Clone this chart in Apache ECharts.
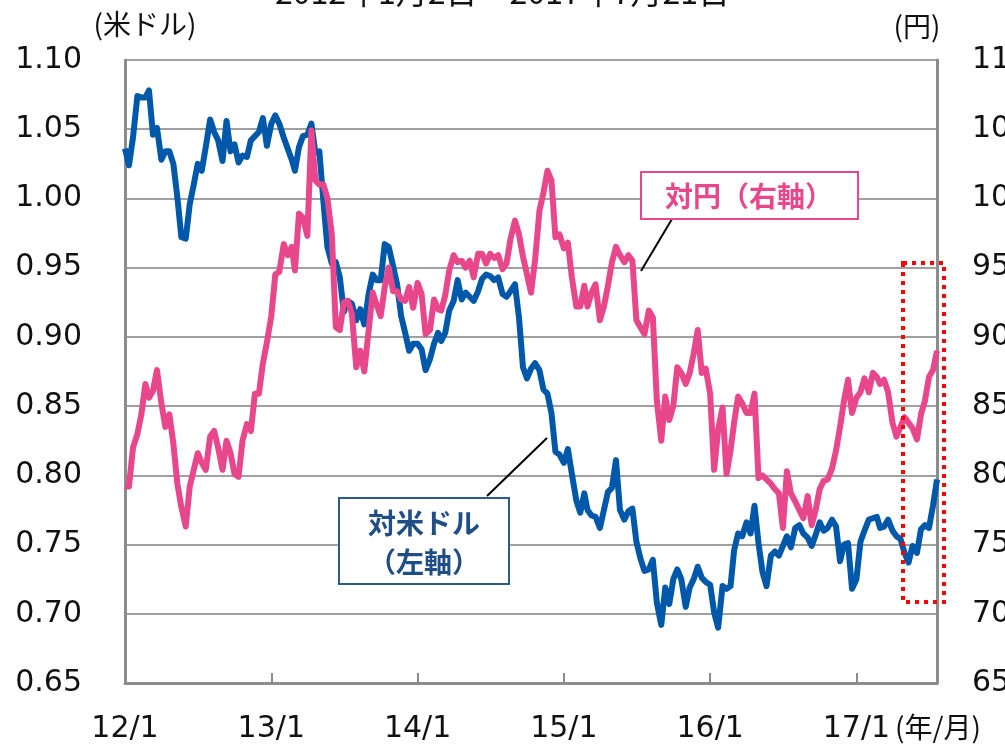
<!DOCTYPE html>
<html>
<head>
<meta charset="utf-8">
<script src="https://cdn.jsdelivr.net/npm/echarts@6/dist/echarts.min.js"></script>
<style>
  html, body { margin: 0; padding: 0; background: #fff; }
  #chart { width: 1005px; height: 744px; }
</style>
</head>
<body>
<div id="chart"></div>
<script>
// 各月 1日・11日・21日 の値
const sampleDays = [1, 11, 21];
const years = [2012, 2013, 2014, 2015, 2016, 2017];

// 対米ドル（左軸, 米ドル）
const usd2012 = [1.036, 1.024, 1.044, 1.074, 1.073, 1.073, 1.078, 1.046, 1.051, 1.028, 1.034, 1.034,
  1.025, 1.001, 0.972, 0.971, 0.996, 1.010, 1.025, 1.020, 1.037, 1.057, 1.048, 1.042,
  1.027, 1.056, 1.034, 1.039, 1.026, 1.031, 1.030, 1.042, 1.045, 1.048, 1.058, 1.038];
const usd2013 = [1.054, 1.060, 1.054, 1.044, 1.036, 1.028, 1.020, 1.037, 1.045, 1.046, 1.054, 1.033,
  1.034, 0.998, 0.965, 0.953, 0.954, 0.943, 0.918, 0.926, 0.924, 0.912, 0.920, 0.909,
  0.931, 0.945, 0.941, 0.941, 0.967, 0.965, 0.951, 0.938, 0.915, 0.903, 0.890, 0.895];
const usd2014 = [0.895, 0.891, 0.876, 0.884, 0.895, 0.903, 0.897, 0.903, 0.919, 0.926, 0.941, 0.927,
  0.932, 0.929, 0.926, 0.933, 0.942, 0.945, 0.944, 0.941, 0.943, 0.931, 0.929, 0.933,
  0.938, 0.914, 0.878, 0.870, 0.877, 0.881, 0.876, 0.862, 0.859, 0.845, 0.817, 0.815];
const usd2015 = [0.809, 0.819, 0.801, 0.782, 0.773, 0.787, 0.775, 0.771, 0.770, 0.762, 0.775, 0.788,
  0.791, 0.811, 0.775, 0.768, 0.774, 0.776, 0.752, 0.740, 0.731, 0.732, 0.739, 0.708,
  0.692, 0.719, 0.707, 0.725, 0.732, 0.725, 0.705, 0.719, 0.725, 0.734, 0.726, 0.723];
const usd2016 = [0.721, 0.701, 0.690, 0.720, 0.718, 0.720, 0.746, 0.758, 0.756, 0.766, 0.758, 0.778,
  0.751, 0.730, 0.720, 0.742, 0.745, 0.742, 0.749, 0.756, 0.748, 0.762, 0.764, 0.758,
  0.755, 0.749, 0.757, 0.766, 0.760, 0.762, 0.768, 0.763, 0.738, 0.750, 0.751, 0.718];
const usd2017 = [0.725, 0.752, 0.760, 0.768, 0.769, 0.770, 0.762, 0.763, 0.768, 0.760, 0.756, 0.754,
  0.744, 0.737, 0.749, 0.744, 0.761, 0.764, 0.762, 0.778, 0.797];

// 対円（右軸, 円）
const jpy2012 = [79.2, 79.2, 82.0, 83.0, 84.4, 86.6, 85.6, 86.1, 87.6, 85.2, 83.5, 84.4,
  82.3, 79.4, 77.7, 76.3, 79.2, 80.4, 81.6, 80.9, 80.4, 82.8, 83.2, 82.0,
  80.4, 82.5, 81.6, 80.1, 79.9, 82.5, 83.7, 83.2, 85.9, 85.9, 88.1, 89.6];
const jpy2013 = [91.5, 94.5, 94.7, 96.7, 95.9, 96.5, 94.8, 98.9, 98.6, 97.3, 104.9, 101.3,
  101.0, 101.0, 100.0, 97.4, 90.7, 90.5, 92.5, 92.6, 91.7, 87.8, 89.0, 87.5,
  90.5, 93.2, 92.3, 91.5, 93.6, 95.0, 93.3, 93.3, 92.7, 92.6, 93.6, 92.1];
const jpy2014 = [93.9, 93.1, 90.2, 90.5, 92.7, 92.0, 91.9, 93.0, 94.8, 95.9, 95.4, 95.5,
  95.0, 95.5, 94.3, 96.0, 96.0, 95.3, 96.0, 95.7, 95.9, 94.9, 95.3, 97.1,
  98.4, 97.4, 95.8, 94.5, 93.2, 95.5, 99.1, 100.4, 102.0, 101.3, 97.2, 97.4];
const jpy2015 = [96.4, 96.8, 94.3, 92.2, 92.2, 93.7, 92.2, 93.2, 93.8, 91.2, 92.2, 93.7,
  95.4, 96.5, 95.9, 95.4, 95.9, 95.5, 91.2, 90.7, 90.2, 91.9, 91.4, 85.4,
  82.5, 85.7, 84.0, 85.0, 87.8, 87.4, 86.6, 87.4, 88.8, 90.5, 87.4, 87.7];
const jpy2016 = [85.9, 80.4, 83.3, 84.9, 80.1, 81.8, 83.8, 85.7, 85.2, 84.5, 84.5, 85.9,
  79.8, 80.0, 79.7, 79.4, 79.0, 78.7, 76.2, 80.3, 78.7, 78.1, 77.5, 76.9,
  78.5, 76.4, 77.5, 79.0, 79.6, 79.7, 80.5, 81.8, 83.5, 85.4, 86.9, 84.5];
const jpy2017 = [85.6, 86.0, 87.0, 86.0, 87.4, 87.1, 86.6, 86.9, 86.0, 83.8, 82.8, 83.5,
  84.2, 83.8, 83.4, 82.6, 84.4, 85.4, 87.1, 87.6, 89.0];

const usdByYear = [usd2012, usd2013, usd2014, usd2015, usd2016, usd2017];
const jpyByYear = [jpy2012, jpy2013, jpy2014, jpy2015, jpy2016, jpy2017];

const usdTicks = [0.65, 0.70, 0.75, 0.80, 0.85, 0.90, 0.95, 1.00, 1.05, 1.10];
const jpyTicks = [65, 70, 75, 80, 85, 90, 95, 100, 105, 110];

// 日付 -> 年（小数）
function toYear(y, m, d) {
  const start = Date.UTC(y, 0, 1);
  const end = Date.UTC(y + 1, 0, 1);
  return y + (Date.UTC(y, m - 1, d) - start) / (end - start);
}

function buildSeries(byYear) {
  const out = [];
  years.forEach((y, yi) => {
    byYear[yi].forEach((v, i) => {
      out.push([toYear(y, Math.floor(i / 3) + 1, sampleDays[i % 3]), v]);
    });
  });
  return out;
}

const numFont = '"DejaVu Sans", Verdana, sans-serif';
const jpFont = '"Noto Sans CJK JP", sans-serif';
const gray = '#8c8c8c';

const option = {
  animation: false,
  grid: { left: 125, right: 68, top: 60, bottom: 61, containLabel: false, outerBoundsMode: 'none' },
  xAxis: {
    type: 'value',
    min: 2012,
    max: toYear(2017, 7, 21),
    interval: 1,
    axisLine: { show: true, lineStyle: { color: gray, width: 3 } },
    axisTick: { show: true, inside: true, length: 10, lineStyle: { color: gray, width: 2 } },
    splitLine: { show: false },
    axisLabel: {
      showMaxLabel: false,
      margin: 31,
      fontSize: 30,
      fontFamily: numFont,
      color: '#111',
      formatter: v => Number.isInteger(v) ? (v - 2000) + '/1' : ''
    }
  },
  yAxis: [
    {
      type: 'value',
      min: usdTicks[0],
      max: usdTicks[usdTicks.length - 1],
      interval: 0.05,
      axisLine: { show: true, lineStyle: { color: gray, width: 3 } },
      axisTick: { show: false },
      splitLine: { show: true, lineStyle: { color: '#a0a0a0', width: 2 } },
      axisLabel: {
        margin: 43,
        fontSize: 30,
        fontFamily: numFont,
        color: '#111',
        formatter: v => v.toFixed(2)
      }
    },
    {
      type: 'value',
      position: 'right',
      min: jpyTicks[0],
      max: jpyTicks[jpyTicks.length - 1],
      interval: 5,
      axisLine: { show: true, lineStyle: { color: gray, width: 3 } },
      axisTick: { show: false },
      splitLine: { show: false },
      axisLabel: {
        margin: 35,
        fontSize: 30,
        fontFamily: numFont,
        color: '#111'
      }
    }
  ],
  series: [
    {
      name: '対米ドル',
      type: 'line',
      yAxisIndex: 0,
      data: buildSeries(usdByYear),
      showSymbol: false,
      lineStyle: { color: '#0058aa', width: 6, join: 'round' },
      itemStyle: { color: '#0058aa' },
      z: 3
    },
    {
      name: '対円',
      type: 'line',
      yAxisIndex: 1,
      data: buildSeries(jpyByYear),
      showSymbol: false,
      lineStyle: { color: '#e8478b', width: 6, join: 'round' },
      itemStyle: { color: '#e8478b' },
      z: 4
    }
  ],
  graphic: [
    // 上部タイトル（切れている）
    { type: 'text', left: 'center', top: -24, z: 10,
      style: { text: '2012年1月2日～2017年7月21日', font: '32px ' + jpFont, fill: '#111' } },
    { type: 'text', x: 145, y: 24, z: 10,
      style: { text: '(米ドル)', font: '28px ' + jpFont, fill: '#111', align: 'center', verticalAlign: 'middle' } },
    { type: 'text', x: 917, y: 26, z: 10,
      style: { text: '(円)', font: '28px ' + jpFont, fill: '#111', align: 'center', verticalAlign: 'middle' } },
    { type: 'text', x: 895, y: 727, z: 10,
      style: { text: '(年/月)', font: '28px ' + jpFont, fill: '#111', align: 'left', verticalAlign: 'middle' } },
    // 対円ラベル
    { type: 'line', z: 20, shape: { x1: 672, y1: 219, x2: 641, y2: 271 },
      style: { stroke: '#000', lineWidth: 2 } },
    { type: 'rect', z: 20, shape: { x: 641, y: 172, width: 217, height: 47 },
      style: { fill: '#fff', stroke: '#e8478b', lineWidth: 2 } },
    { type: 'text', z: 21, x: 749, y: 196,
      style: { text: '対円（右軸）', font: 'bold 28px ' + jpFont, fill: '#e8478b', align: 'center', verticalAlign: 'middle' } },
    // 対米ドルラベル
    { type: 'line', z: 20, shape: { x1: 487, y1: 496, x2: 547, y2: 438 },
      style: { stroke: '#000', lineWidth: 2 } },
    { type: 'rect', z: 20, shape: { x: 339, y: 498, width: 170, height: 86 },
      style: { fill: '#fff', stroke: '#2c5a8c', lineWidth: 2 } },
    { type: 'text', z: 21, x: 424, y: 523,
      style: { text: '対米ドル', font: 'bold 28px ' + jpFont, fill: '#1f4d86', align: 'center', verticalAlign: 'middle' } },
    { type: 'text', z: 21, x: 424, y: 562,
      style: { text: '（左軸）', font: 'bold 28px ' + jpFont, fill: '#1f4d86', align: 'center', verticalAlign: 'middle' } },
    // 赤い点線枠
    { type: 'rect', z: 15, shape: { x: 903, y: 263, width: 41, height: 339 },
      style: { fill: 'none', stroke: '#ff0000', lineWidth: 4, lineDash: [4, 5] } }
  ]
};

const myChart = echarts.init(document.getElementById('chart'));
myChart.setOption(option);
window.addEventListener('resize', () => {
  myChart.resize();
});
</script>
</body>
</html>
